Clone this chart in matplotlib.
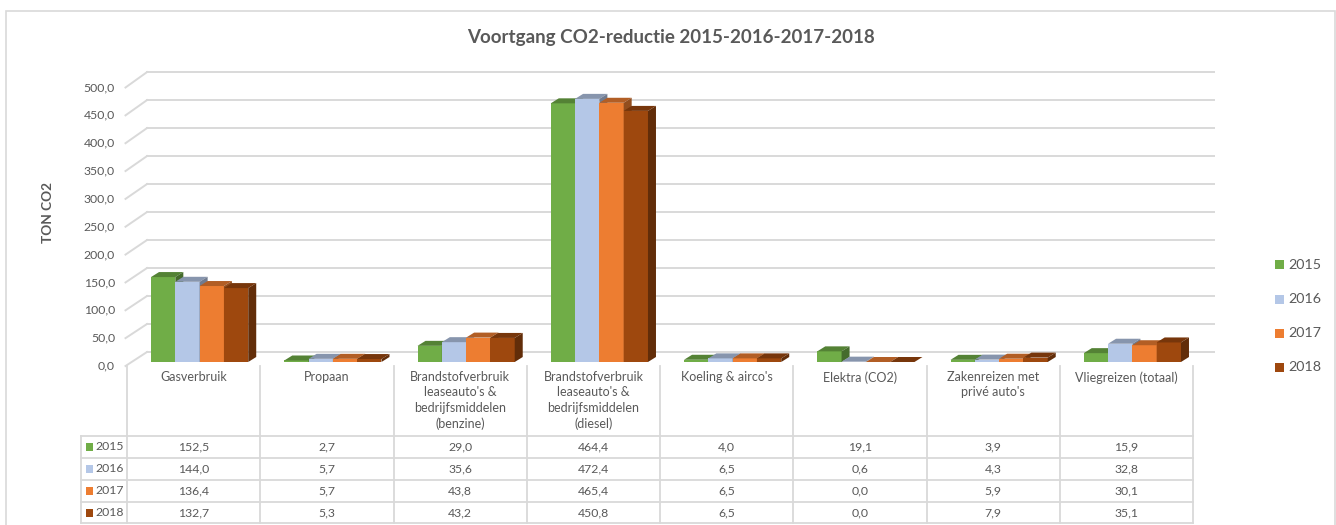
import matplotlib.pyplot as plt
from matplotlib.patches import Polygon, Rectangle
import matplotlib.colors as mcolors

categories = [
    "Gasverbruik",
    "Propaan",
    "Brandstofverbruik\nleaseauto's &\nbedrijfsmiddelen\n(benzine)",
    "Brandstofverbruik\nleaseauto's &\nbedrijfsmiddelen\n(diesel)",
    "Koeling & airco's",
    "Elektra (CO2)",
    "Zakenreizen met\nprivé auto's",
    "Vliegreizen (totaal)",
]
years = ["2015", "2016", "2017", "2018"]
v2015 = [152.5, 2.7, 29.0, 464.4, 4.0, 19.1, 3.9, 15.9]
v2016 = [144.0, 5.7, 35.6, 472.4, 6.5, 0.6, 4.3, 32.8]
v2017 = [136.4, 5.7, 43.8, 465.4, 6.5, 0.0, 5.9, 30.1]
v2018 = [132.7, 5.3, 43.2, 450.8, 6.5, 0.0, 7.9, 35.1]
series = [v2015, v2016, v2017, v2018]
yticks = [0, 50, 100, 150, 200, 250, 300, 350, 400, 450, 500]

colors = ["#70AD47", "#B4C7E7", "#ED7D31", "#9E480E"]
grid_c = "#D9D9D9"
txt_c = "#595959"
FONT = "Lato"

# pixel layout of the original excel chart
W, H = 1336, 525
X0, XS = 127, 133.25      # left edge of first category column, px per category
Y0, YS = 362, 0.557       # baseline of bar fronts, px per ton


def px(x):
    return -0.5 + (x - X0) / XS


def py(y):
    return (Y0 - y) / YS


def shade(c, f):
    r, g, b = mcolors.to_rgb(c)
    return (r * f, g * f, b * f)


def fmt(v):
    return f"{v:.1f}".replace(".", ",")


fig = plt.figure(figsize=(W / 100, H / 100), dpi=100)
ax = fig.add_axes([0, 0, 1, 1])
ax.set_xlim(px(0), px(W))
ax.set_ylim(py(H), py(0))
ax.axis("off")

# chart border (bottom edge is cut off in the original)
ax.add_patch(Rectangle((px(6), py(535)), px(1335) - px(6), py(11) - py(535),
                       fill=False, ec=grid_c, lw=1.2))

# back wall gridlines + diagonal wall edges
back_l, back_r, front_l = px(147), px(1214), px(125.5)
for t in yticks:
    yb = py(352) + t * 1.005
    yf = py(366) + t * 1.0
    ax.plot([back_l, back_r], [yb, yb], color=grid_c, lw=1.4, zorder=1)
    ax.plot([front_l, back_l], [yf, yb], color=grid_c, lw=1.4, zorder=1)
    ax.text(px(115), yf, fmt(t), ha="right", va="center", fontsize=8.8,
            color=txt_c, family=FONT)

# 3d columns
bw = 24.3 / XS
shift = 6 / XS
ddx, ddy = 8 / XS, 5 / YS
for i in range(len(categories)):
    start = i - 2 * bw + shift
    for k, vals in enumerate(series):
        v = vals[i]
        x0 = start + k * bw
        c = colors[k]
        ax.add_patch(Rectangle((x0, 0), bw, v, fc=c, ec="none", zorder=3))
        ax.add_patch(Polygon([(x0, v), (x0 + bw, v), (x0 + bw + ddx, v + ddy),
                              (x0 + ddx, v + ddy)], closed=True,
                             fc=shade(c, 0.75), ec="none", zorder=3))
        ax.add_patch(Polygon([(x0 + bw, 0), (x0 + bw + ddx, ddy),
                              (x0 + bw + ddx, v + ddy), (x0 + bw, v)],
                             closed=True, fc=shade(c, 0.62), ec="none", zorder=3))

# data table
row_lines = [436, 458, 480, 502, 523]
for k in range(len(categories) + 1):
    ax.plot([k - 0.5, k - 0.5], [py(366), py(523)], color=grid_c, lw=1.3)
ax.plot([px(80.7), px(80.7)], [py(436), py(523)], color=grid_c, lw=1.3)
for r in row_lines:
    ax.plot([px(80.7), 7.5], [py(r), py(r)], color=grid_c, lw=1.3)

for i, cat in enumerate(categories):
    ax.text(i, py(371), cat, ha="center", va="top", fontsize=9,
            color=txt_c, family=FONT, linespacing=1.35)
for k, vals in enumerate(series):
    yc = py((row_lines[k] + row_lines[k + 1]) / 2)
    ax.add_patch(Rectangle((px(86), yc - 4 / YS), 7 / XS, 8 / YS,
                           fc=colors[k], ec="none"))
    ax.text(px(95), yc, years[k], ha="left", va="center", fontsize=8.8,
            color=txt_c, family=FONT)
    for i, v in enumerate(vals):
        ax.text(i, yc, fmt(v), ha="center", va="center", fontsize=8.8,
                color=txt_c, family=FONT)

# legend
for k, yr in enumerate(years):
    yc = py(265 + k * 34)
    ax.add_patch(Rectangle((px(1274.5), yc - 4.5 / YS), 9 / XS, 9 / YS,
                           fc=colors[k], ec="none"))
    ax.text(px(1288), yc, yr, ha="left", va="center", fontsize=10.3,
            color=txt_c, family=FONT)

# titles
ax.text(px(671), py(38), "Voortgang CO2-reductie 2015-2016-2017-2018",
        ha="center", va="center", fontsize=13.5, fontweight="bold",
        color=txt_c, family=FONT)
ax.text(px(48), py(213), "TON CO2", ha="center", va="center", rotation=90,
        fontsize=9.8, fontweight="bold", color=txt_c, family=FONT)

fig.savefig("out.png", dpi=100)
